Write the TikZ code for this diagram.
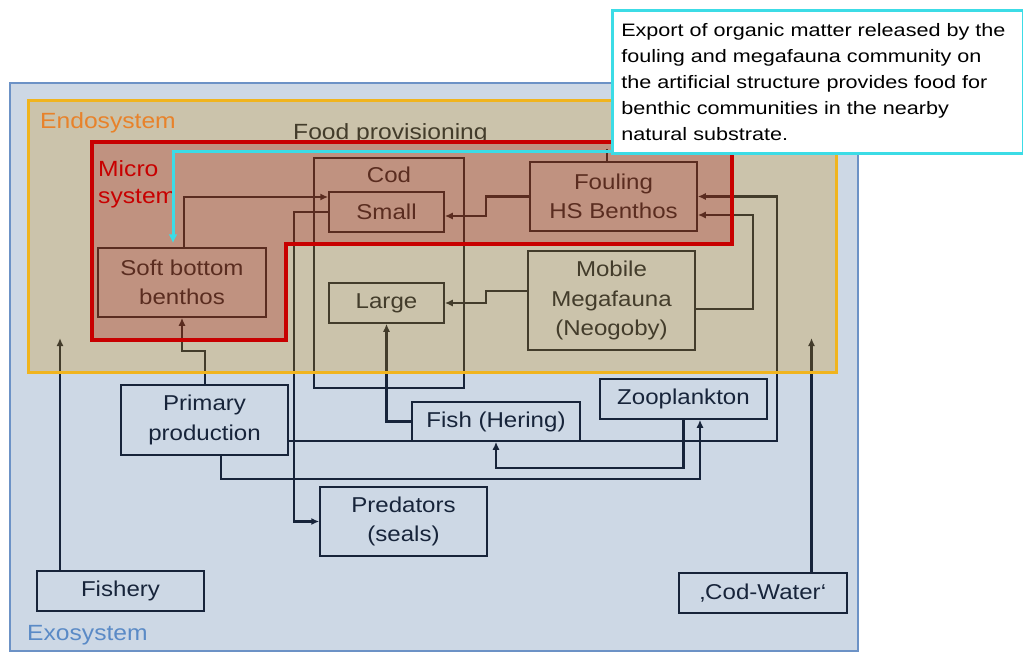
\documentclass[tikz,border=0pt]{standalone}
\usepackage{fontspec}
\setmainfont{Liberation Sans}[FakeStretch=1.12]
\newfontfamily\callfam{Liberation Sans}[FakeStretch=1.2,WordSpace=1.8]
\usetikzlibrary{arrows.meta}
\definecolor{exobg}{RGB}{205,216,229}
\definecolor{exoline}{RGB}{108,146,198}
\definecolor{navy}{RGB}{23,36,58}
\definecolor{endoov}{RGB}{200,135,0}
\definecolor{microov}{RGB}{160,0,0}
\definecolor{endoborder}{RGB}{240,180,30}
\definecolor{microborder}{RGB}{200,0,0}
\definecolor{endolbl}{RGB}{232,130,42}
\definecolor{exolbl}{RGB}{90,138,198}
\definecolor{cyanc}{RGB}{60,220,230}
\newcommand\boxfont{\fontsize{21.5}{29.5}\selectfont}
\newcommand\lblfont{\fontsize{22}{27}\selectfont}
\newcommand\callfont{\callfam\fontsize{18}{26}\selectfont}
\begin{document}
\begin{tikzpicture}[x=1pt,y=-1pt,
  box/.style={draw=navy,line width=1.5pt,text=navy,align=center,inner sep=0pt,font=\boxfont},
  conn/.style={draw=navy,line width=2.3pt},
  arr/.style={conn,-{Latex[length=8pt,width=7pt]}},
  lbl/.style={anchor=base west,inner sep=0pt,font=\lblfont}]
\useasboundingbox (0,0) rectangle (1023,653);
% exosystem
\draw[draw=exoline,fill=exobg,line width=2.2pt] (10,83) rectangle (858,651);
% boxes
\node[box,minimum width=150pt,minimum height=230pt] (cod) at (389,273) {};
\node[anchor=base,inner sep=0pt,text=navy,font=\boxfont] (codlbl) at (389,182) {Cod};
\node[box,minimum width=115pt,minimum height=40pt] (small) at (386.5,212) {Small};
\node[box,minimum width=115pt,minimum height=40pt] (large) at (386.5,303) {Large};
\node[box,minimum width=168pt,minimum height=69pt] (soft) at (182,282.5) {Soft bottom\\benthos};
\node[box,minimum width=167pt,minimum height=69pt] (foul) at (613.5,196.5) {Fouling\\HS Benthos};
\node[box,minimum width=167pt,minimum height=99pt] (mob) at (611.5,300.5) {Mobile\\Megafauna\\(Neogoby)};
\node[box,minimum width=167pt,minimum height=70pt] (prim) at (204.5,420) {Primary\\production};
\node[box,minimum width=168pt,minimum height=39pt] (fish) at (496,421.5) {Fish (Hering)};
\node[box,minimum width=167pt,minimum height=40pt] (zoo) at (683.5,399) {Zooplankton};
\node[box,minimum width=167pt,minimum height=69pt] (pred) at (403.5,521.5) {Predators\\(seals)};
\node[box,minimum width=167pt,minimum height=40pt] (fishery) at (120.5,591) {Fishery};
\node[box,minimum width=168pt,minimum height=40pt] (codwater) at (763,593) {‚Cod-Water‘};
\node[lbl,text=navy] (foodlbl) at (293,139) {Food provisioning};
% connectors
\coordinate (fishtip) at (60,338);
\coordinate (cwtip) at (811.5,338);
\draw[arr] (fishtip |- fishery.north) -- (fishtip);
\draw[arr] (cwtip |- codwater.north) -- (cwtip);
\draw[arr] ([xshift=0.5pt]prim.north) -- ++(0,-33) -| (soft.south);
\draw[arr] ([xshift=2pt]soft.north) |- ([yshift=15pt]small.west);
\draw[arr] (small.west) -- ++(-34,0) |- (pred.west);
\draw[arr] (foul.west) -- ++(-43,0) |- ([yshift=-4pt]small.east);
\draw[arr] ([yshift=9.5pt]mob.west) -- ++(-41,0) |- (large.east);
\draw[arr] ([yshift=-8.5pt]mob.east) -- ++(57,0) |- ([yshift=-18.5pt]foul.east);
\draw[arr] ([yshift=-21pt]prim.east) -- ++(488,0) |- (foul.east);
\draw[arr] (fish.west) -| (large.south);
\draw[arr] (zoo.south) -- ++(0,48) -| (fish.south);
\draw[arr] ([xshift=16.5pt]prim.south) -- ++(0,23) -| ([xshift=16.5pt]zoo.south);
\draw[conn] ([xshift=-6.5pt]foul.north) -- ++(0,-12);
% endosystem and microsystem overlays
\fill[endoov,opacity=0.25] (28,100) rectangle (836,372);
\fill[microov,opacity=0.25] (92,142) -- (732,142) -- (732,244) -- (286,244) -- (286,340) -- (92,340) -- cycle;
\draw[endoborder,line width=3pt] (28,100) rectangle (836,372);
\draw[microborder,line width=3.2pt,line join=miter] (92,142) -- (732,142) -- (732,244) -- (286,244) -- (286,340) -- (92,340) -- cycle;
% region labels
\node[lbl,text=endolbl] (endolbl) at (40,128) {Endosystem};
\node[lbl,text=microborder] (microA) at (98,176) {Micro};
\node[lbl,text=microborder] (microB) at (98,203) {system};
\node[lbl,text=exolbl] (exolbl) at (27,640) {Exosystem};
% callout
\node[draw=cyanc,line width=2.5pt,fill=white,anchor=north west,minimum width=411pt,minimum height=143pt,inner xsep=9pt,inner ysep=0pt,text width=393pt,align=left,font=\callfont,text=black] (callout) at (611,9)
 {Export of organic matter released by the\\fouling and megafauna community on\\the artificial structure provides food for\\benthic communities in the nearby\\natural substrate.};
\draw[cyanc,line width=3pt,-{Latex[length=9pt,width=9pt]},shorten >=4pt] ([yshift=3.5pt]callout.south west) -| ([xshift=-9pt]soft.north);
\end{tikzpicture}
\end{document}
